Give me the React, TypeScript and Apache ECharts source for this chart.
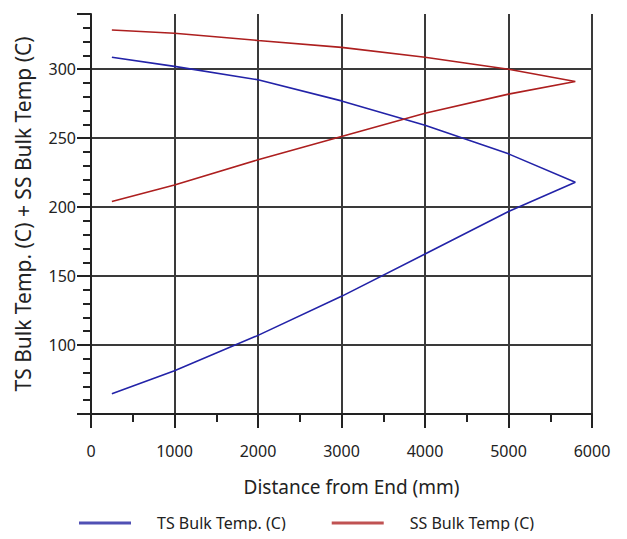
import React, { useEffect, useRef } from "react";
import * as echarts from "echarts";

const tsDistance = [250, 1000, 2000, 3000, 4000, 5000, 5800, 5000, 4000, 3000, 2000, 1000, 250];
const tsTemp = [64.6, 81.4, 107, 135.3, 166, 196.8, 218, 238.6, 259.4, 277, 292.3, 302, 308.7];
const ssDistance = [250, 1000, 2000, 3000, 4000, 5000, 5800, 5000, 4000, 3000, 2000, 1000, 250];
const ssTemp = [204, 216, 234.3, 251.2, 268, 281.9, 291, 300, 308.6, 315.8, 320.8, 326, 328.4];
const yLabels = [100, 150, 200, 250, 300];

const FONT = "'Noto Sans', 'Open Sans', sans-serif";

export default function App() {
  const ref = useRef<HTMLDivElement>(null);
  useEffect(() => {
    if (!ref.current) return;
    const chart = echarts.init(ref.current, undefined, { renderer: "svg" });
    const tsData = tsDistance.map((d, i) => [d, tsTemp[i]]);
    const ssData = ssDistance.map((d, i) => [d, ssTemp[i]]);
    chart.setOption({
      animation: false,
      backgroundColor: "#ffffff",
      grid: { left: 91, top: 14, right: 35, bottom: 125, containLabel: false },
      legend: {
        left: 79,
        top: 515,
        padding: 0,
        icon: "rect",
        itemWidth: 52,
        itemHeight: 3,
        itemGap: 46,
        textStyle: { fontFamily: FONT, fontSize: 16, color: "#222", padding: [0, 0, 0, 21] },
        data: [
          { name: "TS Bulk Temp. (C)", itemStyle: { color: "#5050b4" } },
          { name: "SS Bulk Temp (C)", itemStyle: { color: "#c05252" } },
        ],
      },
      xAxis: {
        type: "value",
        min: 0,
        max: 6000,
        interval: 1000,
        name: "Distance from End (mm)",
        nameLocation: "middle",
        nameGap: 63,
        nameTextStyle: { fontFamily: FONT, fontSize: 19, color: "#222", padding: [0, 0, 0, 20] },
        axisLine: { show: true, onZero: false, lineStyle: { color: "#222", width: 2 } },
        axisTick: { show: true, length: 14, lineStyle: { color: "#222", width: 2 } },
        minorTick: { show: true, splitNumber: 2, length: 8, lineStyle: { color: "#222", width: 2 } },
        axisLabel: {
          margin: 29,
          fontFamily: FONT,
          fontSize: 16,
          color: "#222",
          formatter: (v: number) => String(v),
        },
        splitLine: { show: true, showMinLine: false, lineStyle: { color: "#3a3a3a", width: 2 } },
      },
      yAxis: {
        type: "value",
        min: 50,
        max: 340,
        interval: 50,
        name: "TS Bulk Temp. (C) + SS Bulk Temp (C)",
        nameLocation: "middle",
        nameGap: 58,
        nameTextStyle: { fontFamily: FONT, fontSize: 21, color: "#222" },
        axisLine: { show: true, onZero: false, lineStyle: { color: "#222", width: 2 } },
        axisTick: { show: true, length: 14, lineStyle: { color: "#222", width: 2 } },
        minorTick: { show: true, splitNumber: 5, length: 8, lineStyle: { color: "#222", width: 2 } },
        axisLabel: {
          margin: 15,
          fontFamily: FONT,
          fontSize: 16,
          color: "#222",
          formatter: (v: number) => (yLabels.includes(v) ? String(v) : ""),
        },
        splitLine: {
          show: true,
          showMinLine: false,
          showMaxLine: false,
          lineStyle: { color: "#3a3a3a", width: 2 },
        },
      },
      series: [
        {
          name: "TS Bulk Temp. (C)",
          type: "line",
          data: tsData,
          symbol: "none",
          showSymbol: false,
          color: "#2323a8",
          lineStyle: { color: "#2323a8", width: 1.6 },
        },
        {
          name: "SS Bulk Temp (C)",
          type: "line",
          data: ssData,
          symbol: "none",
          showSymbol: false,
          color: "#ad1f1f",
          lineStyle: { color: "#ad1f1f", width: 1.6 },
        },
      ],
    });
    return () => chart.dispose();
  }, []);
  return <div ref={ref} style={{ width: 627, height: 539, margin: -8 }} />;
}
